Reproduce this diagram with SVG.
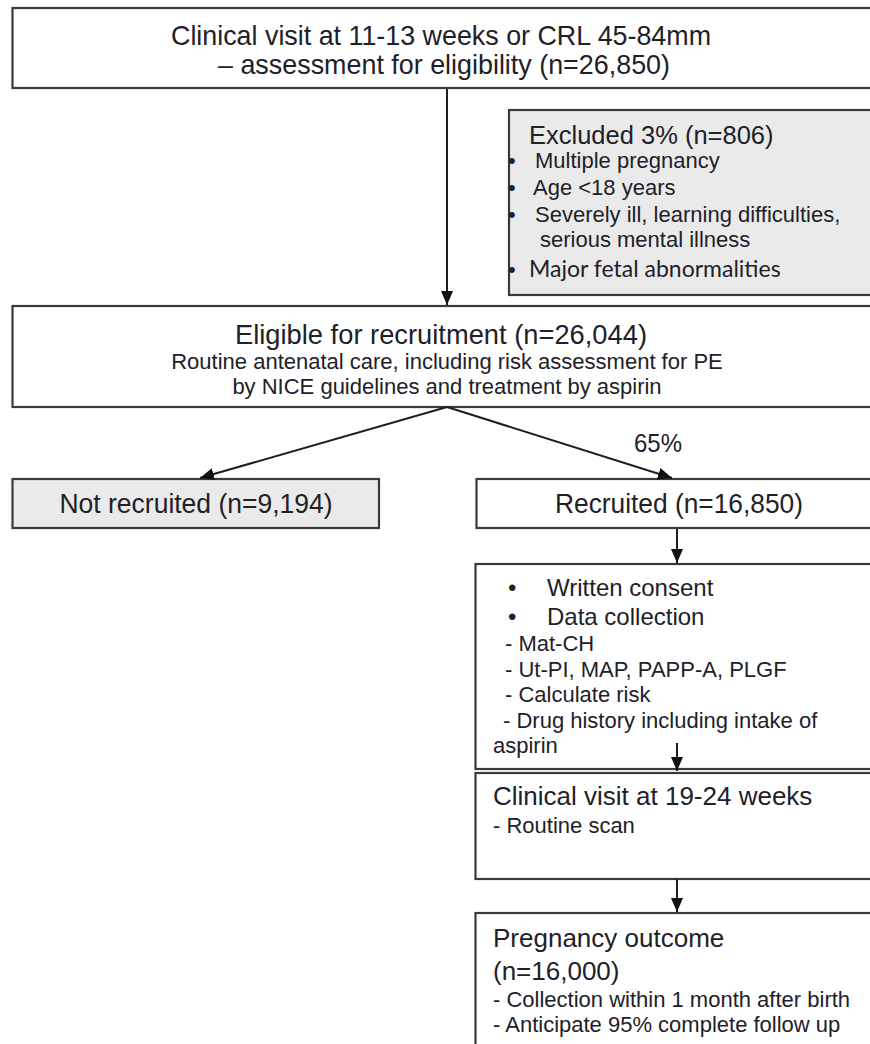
<svg xmlns="http://www.w3.org/2000/svg" width="870" height="1044" viewBox="0 0 870 1044">
<defs>
<style>
.box{fill:#ffffff;stroke:#3a3a3a;stroke-width:2.2}
.grey{fill:#eaeaea}
text{font-family:"Liberation Sans",Arial,sans-serif;fill:#1e2128}
.big{font-size:28px}
.h{font-size:26px}
.s{font-size:22px}
.mid{text-anchor:middle}
.lato{font-family:Lato,"Liberation Sans",sans-serif;font-size:23px}
.conn{stroke:#1e1e1e;stroke-width:2;fill:none;marker-end:url(#arr)}
</style>
<marker id="arr" viewBox="0 0 14 12" refX="14" refY="6" markerWidth="14" markerHeight="12" markerUnits="userSpaceOnUse" orient="auto">
<path d="M0,0 L14,6 L0,12 z" fill="#111111"/>
</marker>
</defs>
<rect width="870" height="1044" fill="#ffffff"/>

<g id="node-start">
<rect class="box" x="12.5" y="8" width="870" height="80"/>
<text class="big mid" x="441" y="45" textLength="540" lengthAdjust="spacingAndGlyphs">Clinical visit at 11-13 weeks or CRL 45-84mm</text>
<text class="big mid" x="444" y="74" textLength="452" lengthAdjust="spacingAndGlyphs">– assessment for eligibility (n=26,850)</text>
</g>

<g id="node-excluded">
<rect class="box grey" x="509" y="110" width="370" height="185"/>
<text class="h" x="529" y="144" style="font-size:25.5px">Excluded 3% (n=806)</text>
<text class="s" x="508" y="168">•</text>
<text class="s" x="535" y="168">Multiple pregnancy</text>
<text class="s" x="508" y="195">•</text>
<text class="s" x="533" y="195">Age &lt;18 years</text>
<text class="s" x="508" y="222">•</text>
<text class="s" x="535" y="222">Severely ill, learning difficulties,</text>
<text class="s" x="540" y="247">serious mental illness</text>
<text class="s" x="508" y="277">•</text>
<text class="lato" x="529" y="277">Major fetal abnormalities</text>
</g>

<g id="node-eligible">
<rect class="box" x="12.5" y="306" width="870" height="101"/>
<text class="big mid" x="441" y="344" textLength="412" lengthAdjust="spacingAndGlyphs">Eligible for recruitment (n=26,044)</text>
<text class="s mid" x="447" y="369">Routine antenatal care, including risk assessment for PE</text>
<text class="s mid" x="447" y="394">by NICE guidelines and treatment by aspirin</text>
</g>

<text x="658" y="452" style="font-size:25px;text-anchor:middle" textLength="48" lengthAdjust="spacingAndGlyphs">65%</text>

<g id="node-not-recruited">
<rect class="box grey" x="12.5" y="479" width="366.5" height="49"/>
<text class="mid" x="196" y="513" style="font-size:27px" textLength="273" lengthAdjust="spacingAndGlyphs">Not recruited (n=9,194)</text>
</g>

<g id="node-recruited">
<rect class="box" x="476.5" y="479" width="400" height="49"/>
<text class="mid" x="679" y="513" style="font-size:27px" textLength="248" lengthAdjust="spacingAndGlyphs">Recruited (n=16,850)</text>
</g>

<g id="node-consent">
<rect class="box" x="475.5" y="564" width="400" height="205"/>
<text x="508" y="596" style="font-size:24px">•</text>
<text x="547" y="596" style="font-size:24px">Written consent</text>
<text x="508" y="625" style="font-size:24px">•</text>
<text x="547" y="625" style="font-size:24px">Data collection</text>
<text class="s" x="505" y="651">- Mat-CH</text>
<text class="s" x="505" y="677">- Ut-PI, MAP, PAPP-A, PLGF</text>
<text class="s" x="505" y="702">- Calculate risk</text>
<text class="s" x="503" y="728">- Drug history including intake of</text>
<text class="s" x="493" y="753">aspirin</text>
</g>

<g id="node-visit2">
<rect class="box" x="475.5" y="773" width="400" height="106"/>
<text class="h" x="493" y="805">Clinical visit at 19-24 weeks</text>
<text class="s" x="493" y="833">- Routine scan</text>
</g>

<g id="node-outcome">
<rect class="box" x="475.5" y="913" width="400" height="140"/>
<text class="h" x="493" y="947">Pregnancy outcome</text>
<text class="h" x="493" y="980">(n=16,000)</text>
<text class="s" x="493" y="1007">- Collection within 1 month after birth</text>
<text class="s" x="493" y="1032">- Anticipate 95% complete follow up</text>
</g>

<g id="connectors">
<line class="conn" x1="447" y1="89" x2="447" y2="305"/>
<line class="conn" x1="447" y1="407" x2="200" y2="478"/>
<line class="conn" x1="447" y1="407" x2="672" y2="478"/>
<line class="conn" x1="677" y1="529" x2="677" y2="563"/>
<line class="conn" x1="677" y1="743" x2="677" y2="771"/>
<line class="conn" x1="677" y1="879" x2="677" y2="912"/>
</g>
</svg>
